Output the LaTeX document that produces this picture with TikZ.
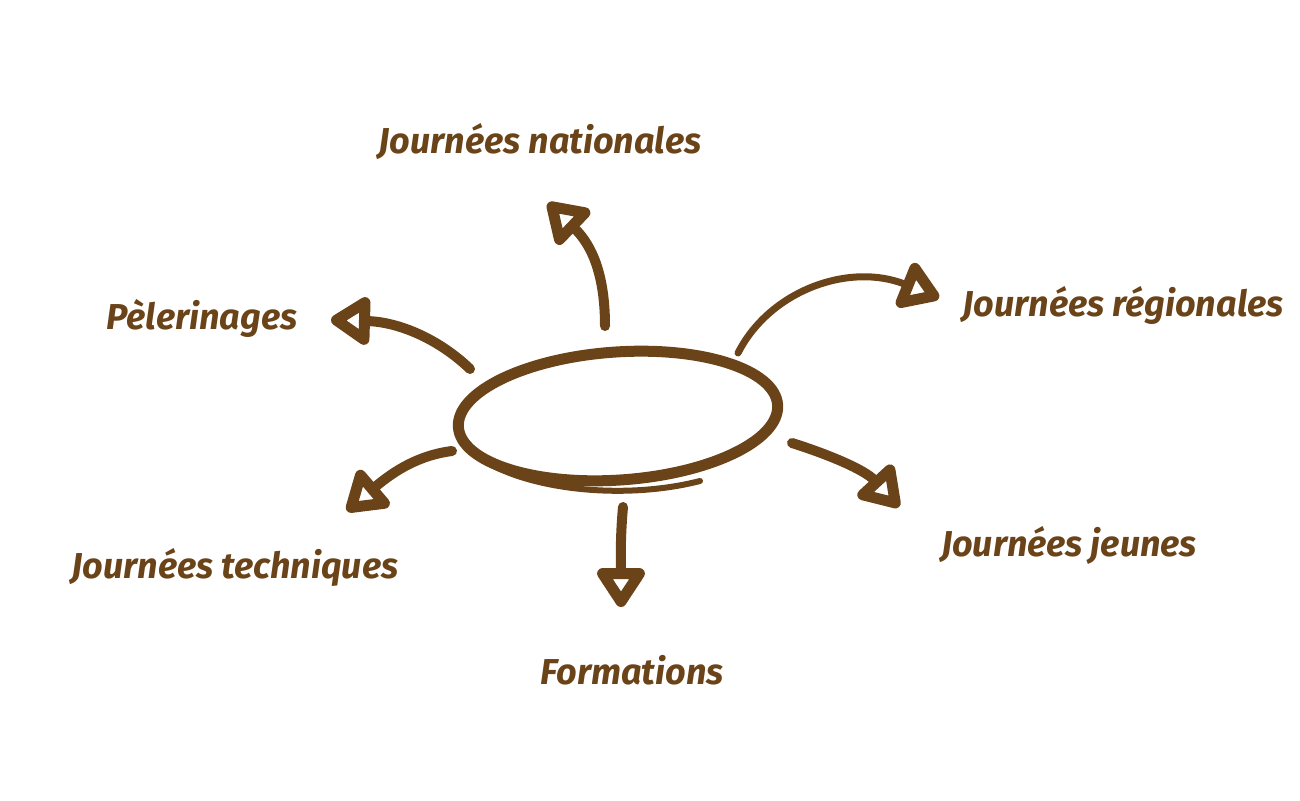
\documentclass[tikz,border=0pt]{standalone}
\usepackage{fontspec}
\setmainfont{Fira Sans}
\usetikzlibrary{arrows.meta,shapes.geometric}
\definecolor{brush}{HTML}{6B4318}
\begin{document}
\begin{tikzpicture}[x=1pt,y=-1pt,
  lbl/.style={text=brush,font=\fontsize{36}{36}\selectfont\bfseries\itshape,inner sep=0pt},
  conn/.style={draw=brush,line width=10pt,line cap=round,
    -{Triangle[open,length=44pt,width=54pt,line width=12pt,round]}},
  blob/.style={draw=brush,line width=11pt,ellipse,minimum width=320pt,minimum height=128pt,inner sep=0pt}]
\useasboundingbox (0,0) rectangle (1300,800);
% labels
\node[lbl] (nat) at (540,142) {Journées nationales};
\node[lbl] (pel) at (202,318) {Pèlerinages};
\node[lbl] (reg) at (1123,305) {Journées régionales};
\node[lbl] (tec) at (235,567) {Journées techniques};
\node[lbl] (jeu) at (1069,545) {Journées jeunes};
\node[lbl] (for) at (632,670) {Formations};
% central ellipse
\node[blob,rotate=4] (c) at (618,416) {};
\draw[brush,line width=6pt,line cap=round] (700,481) arc[start angle=60,end angle=150,x radius=165,y radius=73];
% connector end points
\coordinate (s1) at (605,326); \coordinate (e1) at (548,203);
\coordinate (s2) at (470,369); \coordinate (e2) at (331,320);
\coordinate (s3) at (738,353); \coordinate (e3) at (939,298);
\coordinate (s4) at (452,451); \coordinate (e4) at (347,511);
\coordinate (s5) at (623,507); \coordinate (e5) at (621,607);
\coordinate (s6) at (792,443); \coordinate (e6) at (899,507);
% connectors
\draw[conn] (s1) .. controls (605,275) and (592,245) .. (e1);
\draw[conn] (s2) .. controls (440,340) and (400,322) .. (e2);
\draw[conn,line width=7pt] (s3) .. controls (770,290) and (850,262) .. (e3);
\draw[conn] (s4) .. controls (420,455) and (395,470) .. (e4);
\draw[conn] (s5) .. controls (620,540) and (621,560) .. (e5);
\draw[conn] (s6) .. controls (830,455) and (865,470) .. (e6);
\end{tikzpicture}
\end{document}
